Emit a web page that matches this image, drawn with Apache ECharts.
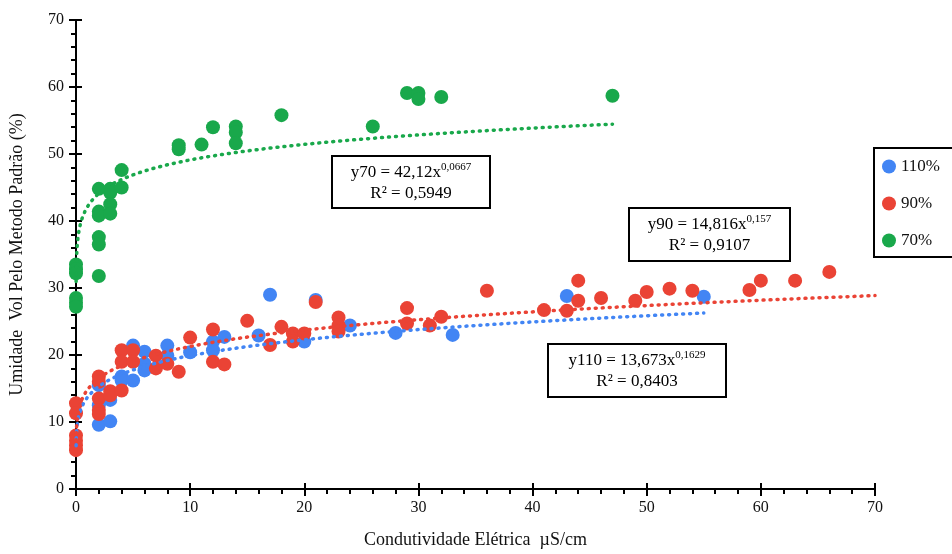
<!DOCTYPE html>
<html>
<head>
<meta charset="utf-8">
<script src="https://cdn.jsdelivr.net/npm/echarts@6/dist/echarts.min.js"></script>
<style>
  html, body { margin: 0; padding: 0; background: #fff; }
  #chart { width: 952px; height: 554px; }
</style>
</head>
<body>
<div id="chart"></div>
<script>
// measured points, [condutividade, umidade]
const pts110 = [
  [2, 15.5], [2, 12.5], [2, 9.6], [3, 13.3], [3, 10.1], [4, 16.8], [4, 16.2],
  [5, 21.4], [5, 16.2], [6, 20.5], [6, 18.7], [6, 17.7], [8, 21.4], [8, 19.9],
  [10, 20.4], [12, 22.0], [12, 20.7], [13, 22.7], [16, 22.9], [17, 29.0],
  [20, 22.0], [21, 28.2], [24, 24.4], [28, 23.3], [33, 23.0], [43, 28.8], [55, 28.7]
]
const pts90 = [
  [0, 12.8], [0, 11.3], [0, 8.0], [0, 7.2], [0, 6.5], [0, 5.8],
  [2, 16.8], [2, 16.0], [2, 13.5], [2, 11.8], [2, 11.2], [3, 14.6], [3, 14.0],
  [4, 20.7], [4, 19.0], [4, 14.7], [5, 20.7], [5, 19.0], [7, 19.9], [7, 18.0],
  [8, 18.7], [9, 17.5], [10, 22.6], [12, 23.8], [12, 19.0], [13, 18.6],
  [15, 25.1], [17, 21.5], [18, 24.2], [19, 23.2], [19, 22.0], [20, 23.2],
  [21, 27.9], [23, 25.6], [23, 24.4], [23, 23.5], [29, 27.0], [29, 24.7],
  [31, 24.4], [32, 25.7], [36, 29.6], [41, 26.7], [43, 26.6], [44, 31.1],
  [44, 28.1], [46, 28.5], [49, 28.1], [50, 29.4], [52, 29.9], [54, 29.6],
  [59, 29.7], [60, 31.1], [63, 31.1], [66, 32.4]
]
const pts70 = [
  [0, 33.5], [0, 32.8], [0, 32.2], [0, 28.5], [0, 27.8], [0, 27.2],
  [2, 44.8], [2, 41.4], [2, 40.8], [2, 37.6], [2, 36.5], [2, 31.8],
  [3, 44.8], [3, 44.2], [3, 42.5], [3, 41.1], [4, 47.6], [4, 45.0],
  [9, 51.3], [9, 50.7], [11, 51.4], [12, 54.0], [14, 54.1], [14, 53.2], [14, 51.6],
  [18, 55.8], [26, 54.1], [29, 59.1], [30, 59.1], [30, 58.2], [32, 58.5], [47, 58.7]
]

const seriesNames = ['110%', '90%', '70%']
const colors = ['#4285f4', '#ea4335', '#19a84b']

// power trendlines as printed on the chart: y = a * x^b
const fitA = [13.673, 14.816, 42.12]
const fitB = [0.1629, 0.157, 0.0667]
const fitXMax = [55, 70, 47]
const fitLabels = [
  ['y110 = 13,673x', '0,1629', 'R² = 0,8403'],
  ['y90 = 14,816x', '0,157', 'R² = 0,9107'],
  ['y70 = 42,12x', '0,0667', 'R² = 0,5949']
]

const xTicks = [0, 10, 20, 30, 40, 50, 60, 70]
const yTicks = [0, 10, 20, 30, 40, 50, 60, 70]

const trendPoints = (i) => {
  const out = []
  const lo = Math.log(0.01), hi = Math.log(fitXMax[i])
  for (let k = 0; k <= 120; k++) {
    const x = Math.exp(lo + (hi - lo) * k / 120)
    out.push([x, fitA[i] * Math.pow(x, fitB[i])])
  }
  return out
}

const serif = 'Liberation Serif, Times New Roman, serif'
const chart = echarts.init(document.getElementById('chart'))

const scatter = [pts110, pts90, pts70].map((d, i) => ({
  name: seriesNames[i],
  type: 'scatter',
  data: d,
  symbolSize: 14,
  itemStyle: { color: colors[i], opacity: 1 },
  z: 3,
}))

const trends = [0, 1, 2].map(i => ({
  name: 'trend' + i,
  type: 'line',
  data: trendPoints(i),
  showSymbol: false,
  smooth: false,
  silent: true,
  lineStyle: { color: colors[i], width: 3.5, type: [1, 6], cap: 'round' },
  z: 4,
}))

const boxes = [
  { x: 547, y: 343, w: 178, h: 53 },
  { x: 628, y: 207, w: 161, h: 53 },
  { x: 331, y: 155, w: 158, h: 52 },
]

const graphic = boxes.map((b, i) => ({
  type: 'group',
  left: b.x,
  top: b.y,
  children: [
    { type: 'rect', shape: { x: 0, y: 0, width: b.w, height: b.h },
      style: { fill: '#fff', stroke: '#000', lineWidth: 2 } },
    { type: 'text', x: b.w / 2, y: 6,
      style: {
        text: '{a|' + fitLabels[i][0] + '}{s|' + fitLabels[i][1] + '}\n{a|' + fitLabels[i][2] + '}',
        align: 'center',
        verticalAlign: 'top',
        rich: {
          a: { fontFamily: serif, fontSize: 17, color: '#111', lineHeight: 21 },
          s: { fontFamily: serif, fontSize: 11, color: '#111', verticalAlign: 'top', lineHeight: 21, padding: [0, 0, 6, 0] },
        },
      } },
  ],
}))

const axisBase = {
  type: 'value',
  min: 0, max: 70, interval: 10,
  nameLocation: 'middle',
  nameTextStyle: { fontFamily: serif, fontSize: 18, color: '#111' },
  axisLine: { show: true, lineStyle: { color: '#000', width: 2 } },
  axisTick: { show: true, length: 7, lineStyle: { color: '#000', width: 2 } },
  minorTick: { show: true, splitNumber: 5, length: 5, lineStyle: { color: '#000', width: 2 } },
  splitLine: { show: false },
}
// second copy of each axis only draws the inner half of the crossing major ticks
const innerTicks = {
  type: 'value',
  min: 0, max: 70, interval: 10,
  axisLine: { show: false },
  axisTick: { show: true, inside: true, length: 6, lineStyle: { color: '#000', width: 2 } },
  axisLabel: { show: false },
  splitLine: { show: false },
}

chart.setOption({
  animation: false,
  backgroundColor: '#fff',
  grid: { left: 76, right: 77, top: 20, bottom: 63 },
  legend: {
    data: seriesNames,
    orient: 'vertical',
    left: 874,
    top: 148,
    icon: 'circle',
    itemWidth: 14,
    itemHeight: 14,
    itemGap: 20,
    padding: [10, 40, 8, 8],
    borderColor: '#000',
    borderWidth: 2,
    textStyle: { fontFamily: serif, fontSize: 17, color: '#111' },
  },
  xAxis: [
    {
      ...axisBase,
      name: 'Condutividade Elétrica  µS/cm',
      nameGap: 42,
      axisLabel: { fontFamily: serif, fontSize: 16, color: '#111', margin: 11, customValues: xTicks },
    },
    { ...innerTicks, position: 'bottom', offset: 0 },
  ],
  yAxis: [
    {
      ...axisBase,
      name: 'Umidade  Vol Pelo Metodo Padrão (%)',
      nameGap: 50,
      axisLabel: { fontFamily: serif, fontSize: 16, color: '#111', margin: 12, customValues: yTicks },
    },
    { ...innerTicks, position: 'left', offset: 0 },
  ],
  series: [...trends, ...scatter],
  graphic,
})
</script>
</body>
</html>
